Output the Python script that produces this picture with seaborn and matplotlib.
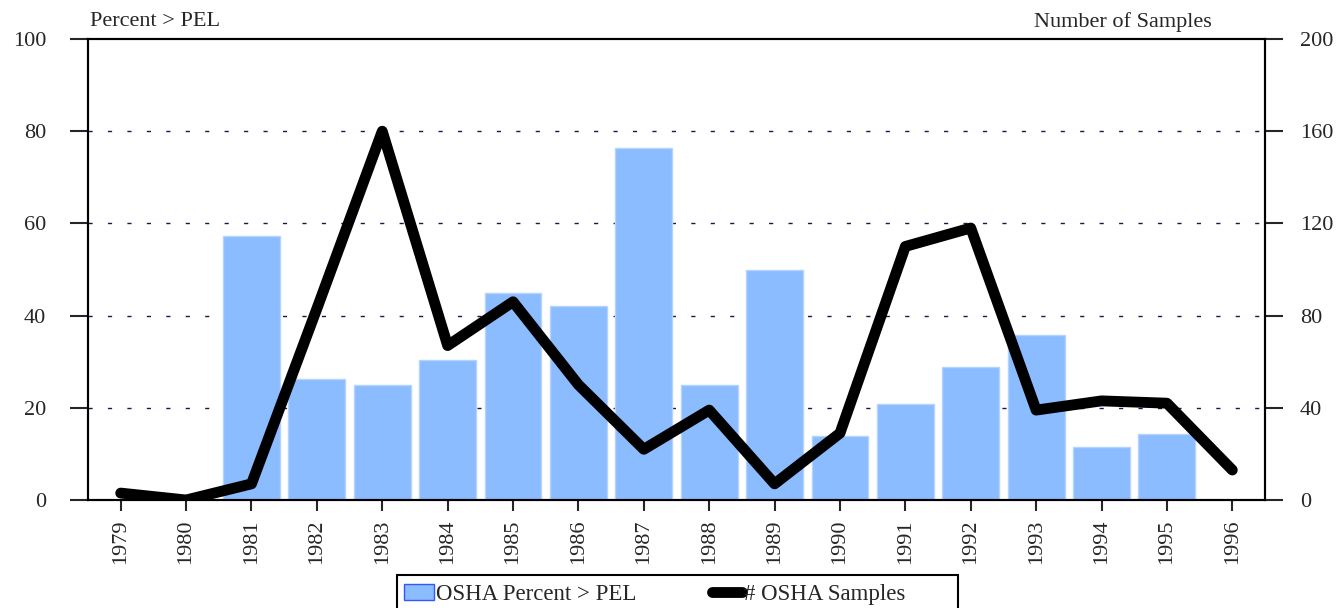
import numpy as np
import pandas as pd
import matplotlib
matplotlib.use("Agg")
import matplotlib.pyplot as plt
from matplotlib.patches import Patch, Rectangle
from matplotlib.lines import Line2D
import seaborn as sns

# Datos
years = [1979, 1980, 1981, 1982, 1983, 1984, 1985, 1986, 1987,
         1988, 1989, 1990, 1991, 1992, 1993, 1994, 1995, 1996]
pct_over_pel = [np.nan, np.nan, 57.2, 26.3, 25.0, 30.4, 44.8, 42.0, 76.3,
                25.0, 50.0, 13.8, 20.9, 28.8, 35.9, 11.5, 14.3, np.nan]
n_samples = [3, 0, 7, 83, 160, 67, 86, 50, 22,
             39, 7, 29, 110, 118, 39, 43, 42, 13]

bar_color = "#8abcff"
fs = 16

sns.set_style("ticks")
plt.rcParams["font.family"] = ["Liberation Serif", "DejaVu Serif"]
plt.rcParams["font.size"] = fs

df = pd.DataFrame({"year": years, "pct": pct_over_pel, "n": n_samples})

fig = plt.figure(figsize=(13.38, 6.08), dpi=100)
ax = fig.add_axes([88 / 1338, 1 - 500 / 608, (1265 - 88) / 1338, (500 - 39) / 608])

sns.barplot(data=df.dropna(), x="year", y="pct", native_scale=True, width=0.87,
            color=bar_color, saturation=1, edgecolor="#b5d3ff", linewidth=1,
            ax=ax, zorder=2)

ax2 = ax.twinx()
sns.lineplot(data=df, x="year", y="n", color="black", linewidth=7.8, ax=ax2,
             solid_capstyle="round", solid_joinstyle="round", zorder=3)

ax.set_xlim(1978.5, 1996.5)
ax.set_ylim(0, 100)
ax2.set_ylim(0, 200)
ax.set_xticks(years)
ax.set_xticklabels([str(y) for y in years], rotation=90)
ax.set_yticks([0, 20, 40, 60, 80, 100])
ax2.set_yticks([0, 40, 80, 120, 160, 200])
ax.set_xlabel("")
ax.set_ylabel("")
ax2.set_xlabel("")
ax2.set_ylabel("")

# rejilla discontinua solo en 20-80
for v in [20, 40, 60, 80]:
    ax.axhline(v, color="#1a1a4a", linewidth=1, dashes=(3, 11), zorder=1)

for a in (ax, ax2):
    for s in a.spines.values():
        s.set_linewidth(1.5)
        s.set_color("black")

ax.tick_params(axis="y", direction="out", length=13, width=1.5, pad=17, labelsize=fs)
ax2.tick_params(axis="y", direction="out", length=13, width=1.5, pad=12, labelsize=fs)
ax.tick_params(axis="x", direction="out", length=8, width=1.5, pad=6, labelsize=fs)

fig.text(90 / 1338, 1 - 22 / 608, "Percent > PEL", ha="left", va="center", fontsize=fs)
fig.text(1212 / 1338, 1 - 22 / 608, "Number of Samples", ha="right", va="center", fontsize=fs)

# leyenda sin marco + marco recortado por el borde inferior
handles = [Patch(facecolor=bar_color, edgecolor="#3355ff", linewidth=1),
           Line2D([0], [0], color="black", linewidth=7.8, solid_capstyle="round")]
leg = fig.legend(handles, ["OSHA Percent > PEL", "# OSHA Samples"],
                 loc="upper left", bbox_to_anchor=(404 / 1338, 1 - 584 / 608),
                 ncol=2, frameon=False, fontsize=16.5,
                 handlelength=1.3, handletextpad=0.1, columnspacing=3.3,
                 borderpad=0, borderaxespad=0)
fig.add_artist(Rectangle((397 / 1338, -0.02), (958 - 397) / 1338, (608 - 575) / 608 + 0.02,
                         transform=fig.transFigure, fill=False, edgecolor="black",
                         linewidth=1.5))

fig.savefig("out.png", dpi=100)
